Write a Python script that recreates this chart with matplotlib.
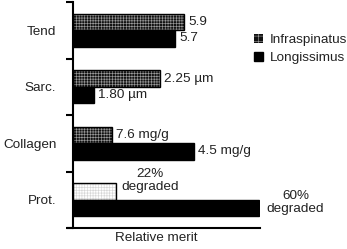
import matplotlib
matplotlib.use("Agg")
import matplotlib.pyplot as plt
from matplotlib.patches import Patch
import numpy as np

plt.rcParams['font.family'] = ['Liberation Sans', 'DejaVu Sans']
plt.rcParams['hatch.linewidth'] = 0.45

# relative merit (unitless, 0-100 scale)
categories = ['Tend', 'Sarc.', 'Collagen', 'Prot.']
infraspinatus = [59.4, 46.5, 20.9, 23.0]
longissimus = [54.5, 11.2, 64.7, 99.5]
infra_labels = ['5.9', '2.25 µm', '7.6 mg/g', '22%\ndegraded']
longi_labels = ['5.7', '1.80 µm', '4.5 mg/g', '60%\ndegraded']

TXT = '#222222'
FS = 9.7

fig = plt.figure(figsize=(3.47, 2.49), dpi=100)
ax = fig.add_axes([68 / 347, 1 - 228 / 249, 192 / 347, 226 / 249])

y = np.arange(len(categories))
h = 0.29

for i, (yi, v) in enumerate(zip(y, infraspinatus)):
    if i == 3:
        ax.barh(yi - h / 2, v, height=h, color='white', edgecolor='#d6d6d6',
                hatch='++++++', lw=0)
    else:
        ax.barh(yi - h / 2, v, height=h, color='#111111', edgecolor='#9a9a9a',
                hatch='++++++', lw=0)
    ax.barh(yi - h / 2, v, height=h, fill=False, edgecolor='black', lw=1.0)

ax.barh(y + h / 2, longissimus, height=h, color='black', edgecolor='black', lw=1.0)

# value labels
for i, (yi, v, lab) in enumerate(zip(y, infraspinatus, infra_labels)):
    if i == 3:
        ax.text(v + 18, yi - 0.34, lab, ha='center', va='center', fontsize=FS,
                color=TXT, linespacing=1.15)
    else:
        ax.text(v + 2.2, yi - h / 2, lab, ha='left', va='center', fontsize=FS, color=TXT)
for i, (yi, v, lab) in enumerate(zip(y, longissimus, longi_labels)):
    if i == 3:
        ax.text(v + 19.5, yi + 0.05, lab, ha='center', va='center', fontsize=FS,
                color=TXT, linespacing=1.15, clip_on=False)
    else:
        ax.text(v + 2.2, yi + h / 2, lab, ha='left', va='center', fontsize=FS, color=TXT)

ax.set_xlim(-2.7, 100)
ax.set_ylim(3.5, -0.5)
ax.spines['left'].set_position(('data', 0))
ax.spines['top'].set_visible(False)
ax.spines['right'].set_visible(False)
for s in ('left', 'bottom'):
    ax.spines[s].set_linewidth(1.5)
    ax.spines[s].set_color('black')

ax.set_xticks([])
ax.set_yticks(np.arange(-0.5, 4.0, 1.0))
ax.set_yticklabels([])
ax.tick_params(axis='y', which='major', length=5, width=1.5, direction='out')
ax.set_yticks(y, minor=True)
ax.set_yticklabels(categories, minor=True, fontsize=FS, color=TXT)
ax.tick_params(axis='y', which='minor', length=0, pad=12)

ax.set_xlabel('Relative merit', fontsize=FS, color=TXT)
ax.xaxis.set_label_coords(0.46, -0.018)

handles = [
    Patch(facecolor='#111111', edgecolor='#9a9a9a', hatch='+++', lw=0),
    Patch(facecolor='black', edgecolor='black'),
]
fig.legend(handles, ['Infraspinatus', 'Longissimus'], loc='upper left',
           bbox_to_anchor=(254 / 347, 1 - 34 / 249), frameon=False,
           fontsize=FS, handlelength=0.7, handleheight=0.7, handletextpad=0.45,
           labelspacing=0.4, borderaxespad=0, borderpad=0, labelcolor=TXT)

fig.savefig('out.png', dpi=100)
